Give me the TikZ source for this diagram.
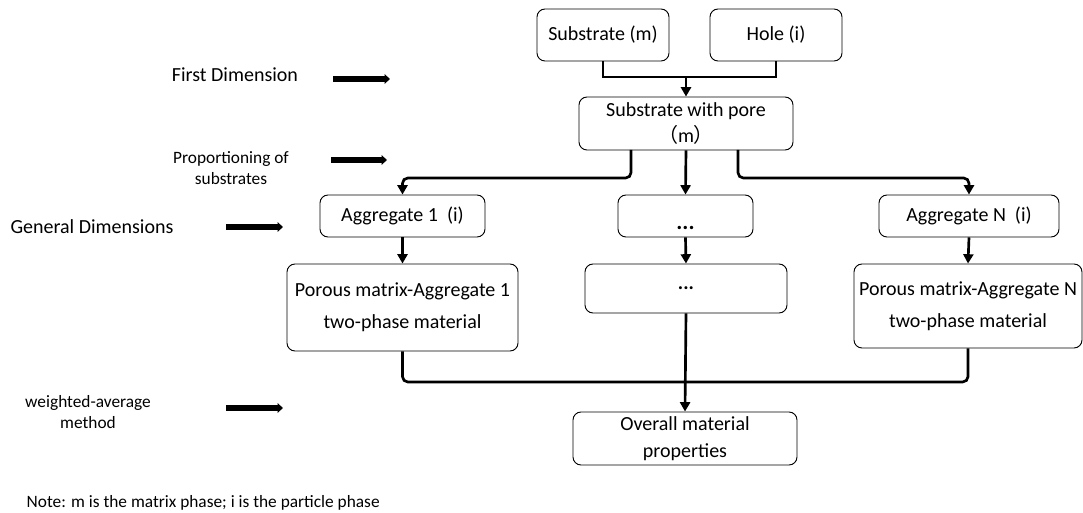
\documentclass[tikz,border=0pt]{standalone}
\usepackage{fontspec}
\setmainfont{Carlito}
\newfontfamily\cjk{Noto Sans CJK SC}
\usetikzlibrary{arrows.meta}

\begin{document}
\begin{tikzpicture}[x=0.75pt,y=-0.75pt,
    box/.style={draw,rounded corners=6pt,line width=0.7pt,align=center,
      inner sep=0pt,font=\fontsize{15}{20}\selectfont},
    wh/.style 2 args={minimum width=#1*0.75pt,minimum height=#2*0.75pt},
    link/.style={line width=2pt},
    flow/.style={link,-{Triangle[length=7pt,width=7.5pt]}},
    fat/.style={line width=5pt,-{Triangle[length=4pt,width=7pt]}},
    lab/.style={align=center,font=\fontsize{15}{20}\selectfont},
    small/.style={align=center,font=\fontsize{13}{16}\selectfont}]
  \useasboundingbox (0,0) rectangle (1083,513);

  % top: substrate and hole
  \node[box,wh={132}{52}] (sub) at (603,35) {Substrate (m)};
  \node[box,wh={132}{52}] (hole) at (776,35) {Hole (i)};
  \node[box,wh={214}{53}] (pore) at (686,123.5)
    {Substrate with pore\\{\cjk （}m{\cjk ）}};

  % aggregates
  \node[box,wh={165}{42}] (agg1) at (402.5,216) {Aggregate 1\ \ (i)};
  \node[box,wh={135}{42}] (aggd) at (685.5,216)
    {\raisebox{-10pt}[0pt][0pt]{\fontsize{17}{20}\selectfont\textbf{...}}};
  \node[box,wh={180}{42}] (aggN) at (969,216) {Aggregate N\ \ (i)};

  % two-phase materials
  \node[box,wh={231}{87}] (por1) at (402.5,307.5)
    {Porous matrix-Aggregate 1\\[4pt]two-phase material};
  \node[box,wh={202}{49}] (pord) at (686,288.5) {\textbf{...}};
  \node[box,wh={228}{84}] (porN) at (968,306)
    {Porous matrix-Aggregate N\\[4pt]two-phase material};

  \node[box,wh={224}{53}] (all) at (685,438.5)
    {Overall material\\properties};

  % connectors
  \coordinate (jn) at (686,77);
  \draw[link] (sub.south) |- (jn) -| (hole.south);
  \draw[flow] (jn) -- (pore.north);

  \coordinate (pl) at (631,150);
  \coordinate (pr) at (738,150);
  \draw[flow,rounded corners=4pt] (pl) -- ++(0,28) -| (agg1.north);
  \draw[flow,rounded corners=4pt] (pr) -- ++(0,28) -| (aggN.north);
  \draw[flow] (pore.south) -- (aggd.north);

  \draw[flow] (agg1.south) -- (por1.north);
  \draw[flow] (aggd.south) -- (pord.north);
  \draw[flow] (aggN.south) -- (porN.north);

  \coordinate (mg) at (686,382);
  \draw[link,rounded corners=4pt] (por1.south) |- (mg);
  \draw[link,rounded corners=4pt] (porN.south) |- (mg);
  \draw[flow] (pord.south) -- (all.north);

  % left side labels
  \node[lab] (l1) at (235,75) {First Dimension};
  \node[small] (l2) at (231,168) {Proportioning of\\substrates};
  \node[lab] (l3) at (92,227) {General Dimensions};
  \node[small] (l4) at (88,412) {weighted-average\\method};
  \node[small,anchor=west] (note) at (22,503)
    {Note: m is the matrix phase; i is the particle phase};

  \coordinate (a1) at (333,79);  \coordinate (b1) at (390,79);
  \coordinate (a2) at (331,160); \coordinate (b2) at (387,160);
  \coordinate (a3) at (226,227); \coordinate (b3) at (283,227);
  \coordinate (a4) at (226,408); \coordinate (b4) at (283,408);
  \foreach \i in {1,...,4}
    \draw[fat] (a\i) -- (b\i);
\end{tikzpicture}
\end{document}
